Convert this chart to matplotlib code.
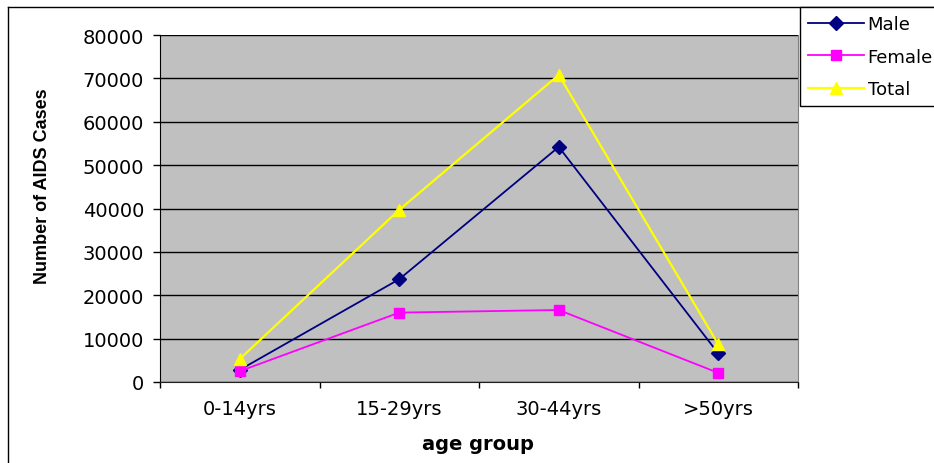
import matplotlib.pyplot as plt
from matplotlib.lines import Line2D
import numpy as np

plt.rcParams['font.family'] = ['DejaVu Sans']

# AIDS cases by age group
age_groups = ["0-14yrs", "15-29yrs", "30-44yrs", ">50yrs"]
male = [2800, 23700, 54200, 6600]
female = [2500, 16000, 16600, 2100]
total = [5300, 39700, 70800, 8700]

W, H = 934, 464
fig = plt.figure(figsize=(W / 100, H / 100), dpi=100)
fig.patch.set_facecolor("white")

# chart area border (runs off the right and bottom edges)
fig.add_artist(Line2D([8 / W, 8 / W], [0, 1 - 8 / H], transform=fig.transFigure,
                      color="black", lw=1))
fig.add_artist(Line2D([8 / W, 1], [1 - 8 / H, 1 - 8 / H], transform=fig.transFigure,
                      color="black", lw=1))

ax = fig.add_axes([160 / W, (H - 383) / H, 638 / W, 347 / H])
ax.set_facecolor("#C0C0C0")

x = np.arange(len(age_groups))
ax.plot(x, male, color="#000080", marker="D", markersize=7.5, lw=1.3, label="Male", zorder=3)
ax.plot(x, female, color="#FF00FF", marker="s", markersize=7.5, lw=1.3, label="Female", zorder=4)
ax.plot(x, total, color="#FFFF00", marker="^", markersize=9, lw=1.6, label="Total", zorder=5)

ax.set_xlim(-0.5, len(age_groups) - 0.5)
ax.set_ylim(0, 80000)
ax.set_yticks(np.arange(0, 80001, 10000))
ax.yaxis.grid(True, color="black", lw=1)
ax.set_axisbelow(True)

ax.set_xticks(x)
ax.set_xticklabels(age_groups, fontsize=14)
ax.set_xticks(np.arange(-0.5, len(age_groups)), minor=True)
ax.tick_params(axis="x", which="major", length=0, pad=12.5)
ax.tick_params(axis="x", which="minor", length=4, width=1, direction="out", color="black")
ax.tick_params(axis="y", length=5, width=1, direction="out", labelsize=14, pad=6.5)

ax.spines["top"].set_visible(False)
ax.spines["right"].set_color("#808080")
ax.spines["left"].set_color("black")
ax.spines["bottom"].set_color("#202020")

fig.text(478 / W, (H - 450) / H, "age group", fontsize=14, fontweight="bold",
         ha="center", va="baseline")
fig.text(43 / W, (H - 186) / H, "Number of AIDS Cases", fontsize=13, fontweight="bold",
         family=["Liberation Sans", "DejaVu Sans"], rotation=90, ha="center", va="center")

leg = fig.legend(loc="upper left", bbox_to_anchor=(800 / W, 1 - 8 / H), fontsize=13,
                 frameon=True, fancybox=False, edgecolor="black", framealpha=1,
                 borderpad=0.45, labelspacing=0.8, handlelength=3.1, handletextpad=0.2,
                 borderaxespad=0)
leg.get_frame().set_linewidth(1)

fig.savefig("out.png", dpi=100)
